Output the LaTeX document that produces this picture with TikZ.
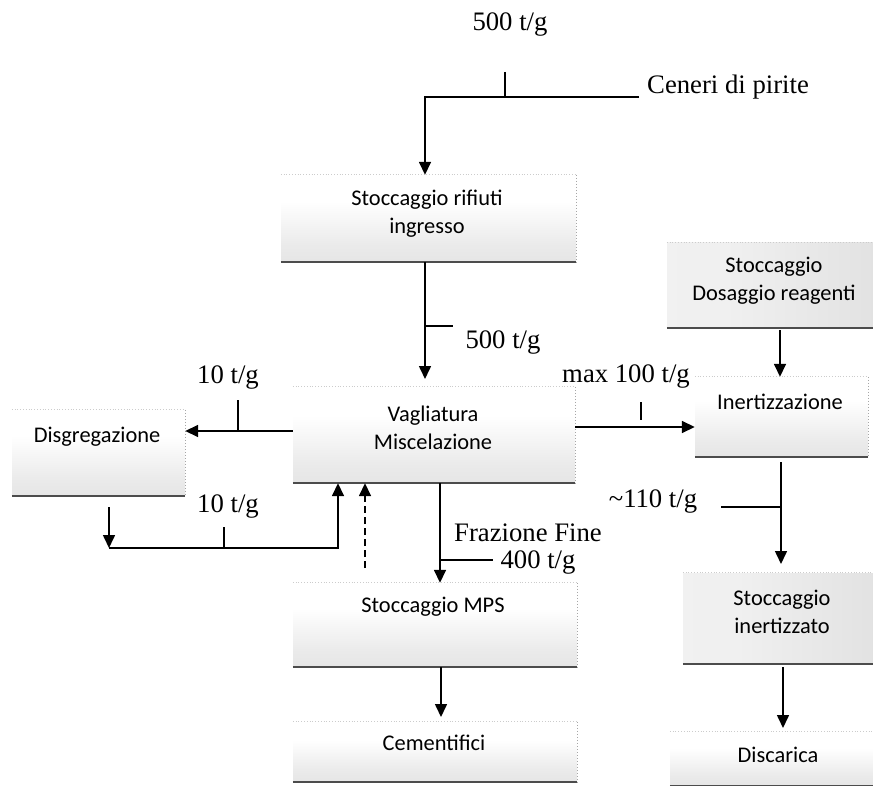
\documentclass[tikz,border=0pt]{standalone}
\usepackage{fontspec}
\setmainfont{Liberation Serif}
\newfontfamily\boxfont{Carlito}
\usetikzlibrary{arrows.meta}
\pgfdeclareverticalshading{boxsh}{100bp}{color(0bp)=(gray!30); color(35bp)=(gray!16); color(60bp)=(white); color(100bp)=(white)}
\pgfdeclareverticalshading{boxshd}{100bp}{color(0bp)=(gray!34); color(40bp)=(gray!18); color(100bp)=(gray!8)}
\pgfdeclarehorizontalshading{boxshh}{100bp}{color(0bp)=(gray!10); color(40bp)=(gray!12); color(100bp)=(gray!30)}
\tikzset{
  box/.style={rectangle, inner sep=0pt, shading=boxsh},
  boxdark/.style={rectangle, inner sep=0pt, shading=boxshh},
  boxtext/.style={font=\boxfont\fontsize{22.4}{28}\selectfont, align=center, inner sep=0pt},
  lab/.style={font=\fontsize{26.7}{30}\selectfont, inner sep=0pt},
  arr/.style={line width=1.6pt, -{Triangle[length=13pt,width=12pt]}},
  ln/.style={line width=1.3pt},
}
\begin{document}
\begin{tikzpicture}[x=1pt,y=-1pt]
\useasboundingbox (0,0) rectangle (873,786);
% boxes
\node[box, minimum width=295, minimum height=87] (rif) at (428.5,218.5) {};
\node[box, minimum width=282, minimum height=96] (vag) at (434,435) {};
\node[box, minimum width=173, minimum height=86] (dis) at (98.5,453) {};
\node[box, minimum width=284, minimum height=84] (mps) at (435,625) {};
\node[box, minimum width=284, minimum height=60] (cem) at (435,752) {};
\node[boxdark, minimum width=206, minimum height=85] (dos) at (770,285.5) {};
\node[box, minimum width=173, minimum height=80] (ine) at (781.5,417) {};
\node[boxdark, minimum width=190, minimum height=91] (sti) at (778,618.5) {};
\node[box, minimum width=203, minimum height=54] (dsc) at (771.5,759) {};
\foreach \b in {rif,vag,dis,mps,cem,dos,ine,sti,dsc}{
  \draw[gray!60!black, line width=2pt] (\b.south west) -- (\b.south east);
  \draw[gray!70, dotted, line width=1pt] (\b.north east) -- (\b.south east);
  \draw[gray!40, dotted, line width=0.8pt] (\b.north west) -- (\b.north east);
}
% box texts
\node[boxtext] (trif) at (427,214) {Stoccaggio rifiuti\\ingresso};
\node[boxtext] (tvag) at (433,427.5) {Vagliatura\\Miscelazione};
\node[boxtext] (tdis) at (97,437) {Disgregazione};
\node[boxtext] (tmps) at (433,607) {Stoccaggio MPS};
\node[boxtext] (tcem) at (434,743) {Cementifici};
\node[boxtext] (tdos) at (774,281) {Stoccaggio\\Dosaggio reagenti};
\node[boxtext] (tine) at (780,402) {Inertizzazione};
\node[boxtext] (tsti) at (782,612) {Stoccaggio\\inertizzato};
\node[boxtext] (tdsc) at (778,755) {Discarica};
% labels
\node[lab] (l500a) at (510,25) {500 t/g};
\node[lab, anchor=west] (lcen) at (647,87) {Ceneri di pirite};
\node[lab] (l500b) at (503,343) {500 t/g};
\node[lab] (l10a) at (228,378) {10 t/g};
\node[lab] (l10b) at (228,507) {10 t/g};
\node[lab] (lfra) at (528,533) {Frazione Fine};
\node[lab] (l400) at (538,563) {400 t/g};
\node[lab] (lmax) at (626,377) {max 100 t/g};
\node[lab] (l110) at (653,502) {\textasciitilde110 t/g};
% coordinates
\coordinate (cen) at (639,97);
\coordinate (t1a) at (505,72);
\coordinate (t1b) at (505,97);
\coordinate (a2s) at (425,262);
\coordinate (a2e) at (425,379);
\coordinate (t2a) at (425,326);
\coordinate (t2b) at (453,326);
\coordinate (t3a) at (238,400);
\coordinate (t3b) at (238,431);
\coordinate (d1) at (109,507);
\coordinate (d2) at (109,548);
\coordinate (t4a) at (224,527);
\coordinate (t4b) at (224,548);
\coordinate (ds) at (365,568);
\coordinate (t5a) at (440,560);
\coordinate (t5b) at (493,560);
\coordinate (a5e) at (441,717);
\coordinate (t6a) at (641,402);
\coordinate (t6b) at (641,420);
\coordinate (a7s) at (781,462);
\coordinate (a7e) at (781,564);
\coordinate (t7a) at (721,507);
\coordinate (t7b) at (781,507);
\coordinate (a8s) at (783,667);
\coordinate (a8e) at (783,728);
% connectors
\draw[arr] (cen) -| (425,0 |- rif.north);
\draw[ln] (t1a) -- (t1b);
\draw[arr] (a2s) -- (a2e);
\draw[ln] (t2a) -- (t2b);
\draw[arr] (vag.west |- 0,431) -- (dis.east |- 0,431);
\draw[ln] (t3a) -- (t3b);
\draw[arr] (d1) -- (d2);
\draw[arr] (d2) -| (338,0 |- vag.south);
\draw[ln] (t4a) -- (t4b);
\draw[arr, dash pattern=on 7pt off 4pt] (ds) -- (365,0 |- vag.south);
\draw[arr] (440,0 |- vag.south) -- (440,0 |- mps.north);
\draw[ln] (t5a) -- (t5b);
\draw[arr] (441,0 |- mps.south) -- (a5e);
\draw[arr] (vag.east |- 0,427) -- (ine.west |- 0,427);
\draw[ln] (t6a) -- (t6b);
\draw[arr] (780,0 |- dos.south) ++(0,2) -- (780,0 |- ine.north);
\draw[arr] (a7s) -- (a7e);
\draw[ln] (t7a) -- (t7b);
\draw[arr] (a8s) -- (a8e);
\end{tikzpicture}
\end{document}
